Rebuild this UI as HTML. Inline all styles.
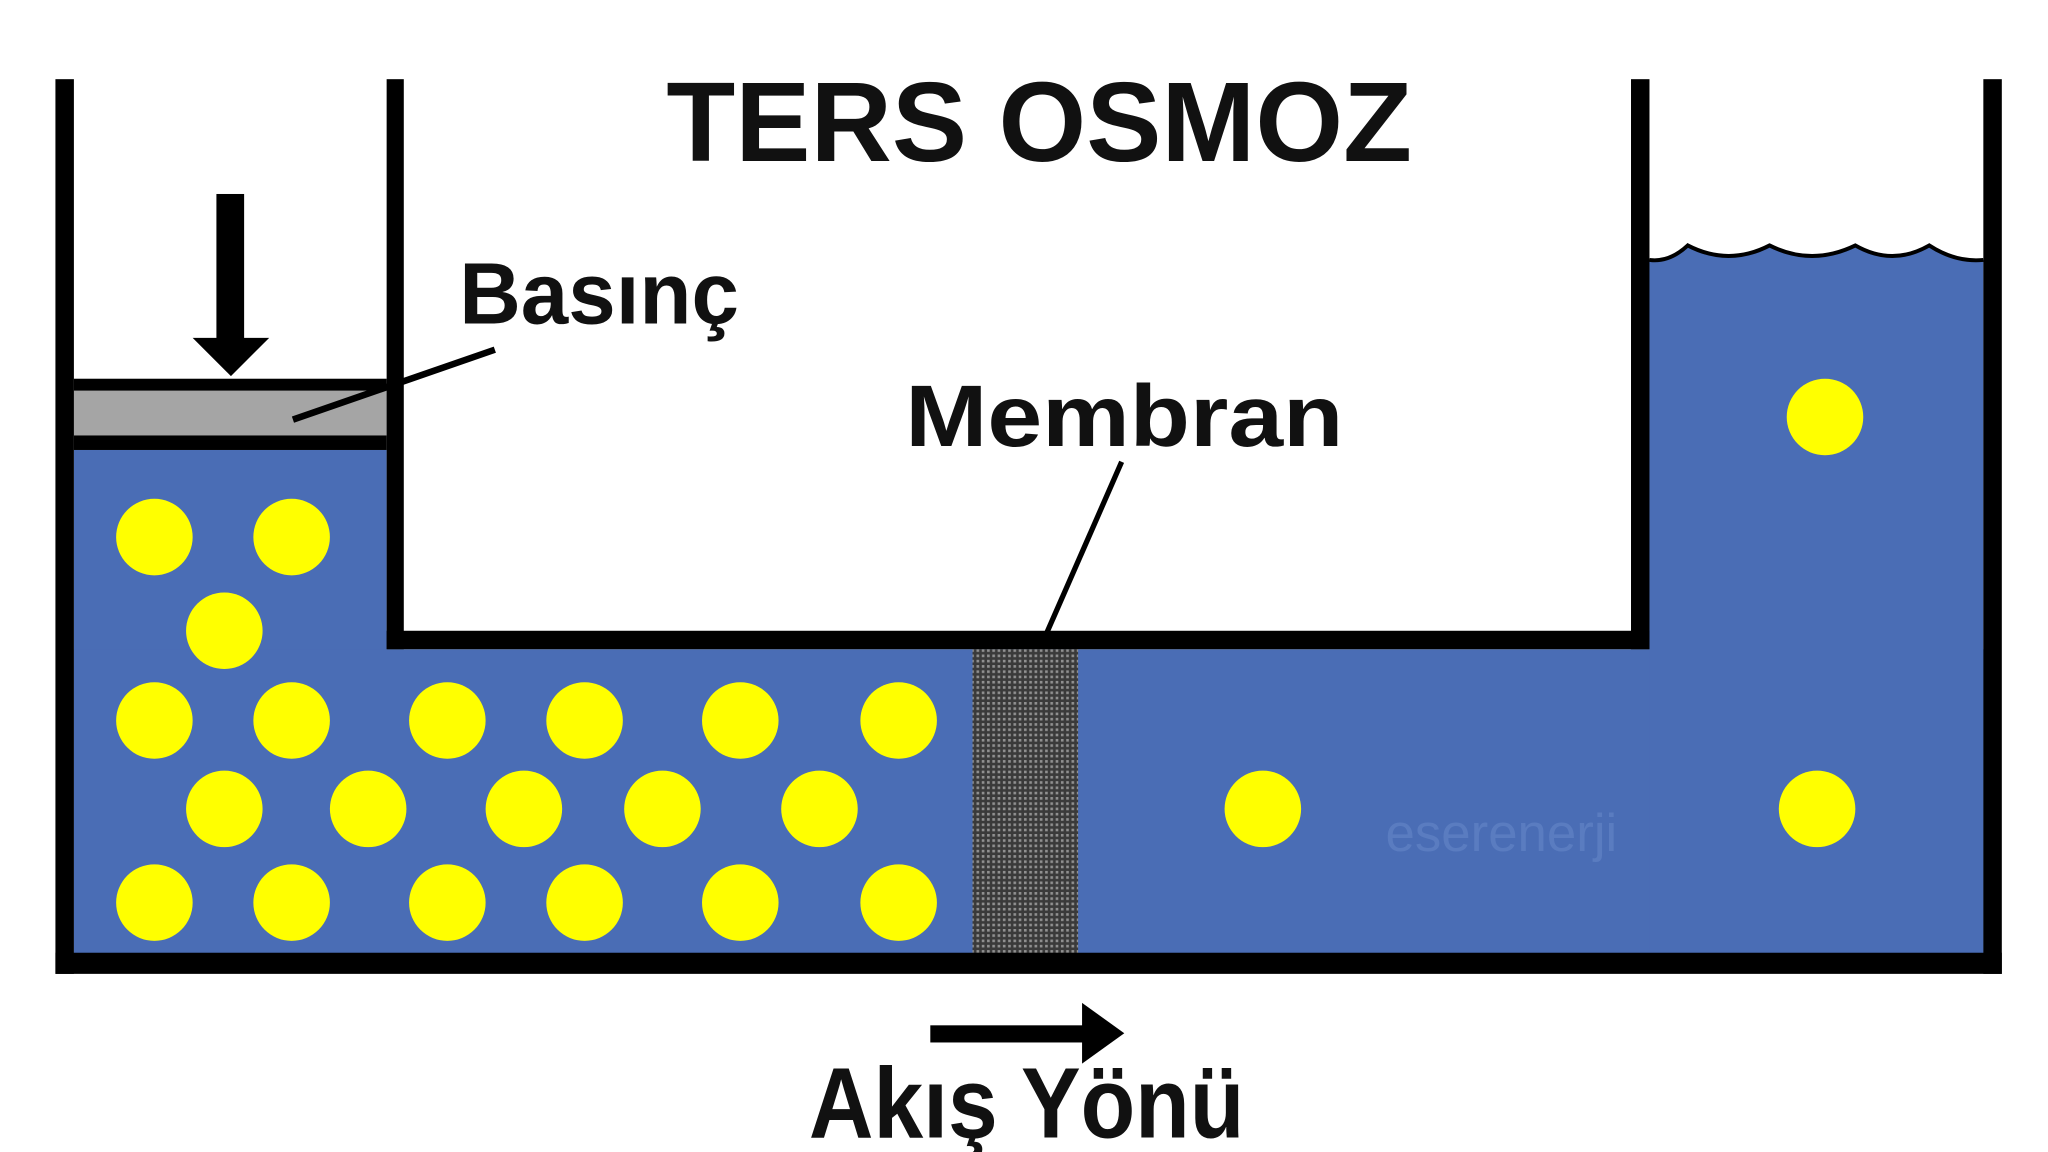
<!DOCTYPE html>
<html><head><meta charset="utf-8"><style>html,body{margin:0;padding:0;background:#fff;}svg{display:block}</style></head>
<body>
<svg width="2048" height="1152" viewBox="0 0 1552 873" preserveAspectRatio="none" xmlns="http://www.w3.org/2000/svg">
<defs>
<pattern id="mp" width="4" height="4" patternUnits="userSpaceOnUse">
<rect width="4" height="4" fill="#3a3a3a"/>
<rect x="0" y="0" width="2" height="2" fill="#909090"/>
</pattern>
</defs>
<rect width="1552" height="873" fill="#fff"/>
<rect x="56" y="341" width="237" height="382" fill="#4a6db5"/>
<rect x="56" y="492" width="1447" height="231" fill="#4a6db5"/>
<path d="M1250,197 Q1265,199 1279,186 Q1310,202 1341,186 Q1373,202 1406,186 Q1434,202 1462,186 Q1482,199 1503,197 L1503,723 L1250,723 Z" fill="#4a6db5"/>
<path d="M1250,197 Q1265,199 1279,186 Q1310,202 1341,186 Q1373,202 1406,186 Q1434,202 1462,186 Q1482,199 1503,197" fill="none" stroke="#000" stroke-width="3"/>
<rect x="737" y="492" width="80" height="231" fill="url(#mp)"/>
<rect x="56" y="287" width="237" height="54" fill="#000"/>
<rect x="56" y="296" width="237" height="34" fill="#a5a5a5"/>
<rect x="42" y="60" width="14" height="678" fill="#000"/>
<rect x="1503" y="60" width="14" height="678" fill="#000"/>
<rect x="42" y="722" width="1475" height="16" fill="#000"/>
<rect x="293" y="60" width="13" height="432" fill="#000"/>
<rect x="1236" y="60" width="14" height="432" fill="#000"/>
<rect x="293" y="478" width="957" height="14" fill="#000"/>
<g fill="#ffff00">
<circle cx="117" cy="407" r="29"/><circle cx="221" cy="407" r="29"/><circle cx="170" cy="478" r="29"/>
<circle cx="117" cy="546" r="29"/><circle cx="221" cy="546" r="29"/><circle cx="339" cy="546" r="29"/><circle cx="443" cy="546" r="29"/><circle cx="561" cy="546" r="29"/><circle cx="681" cy="546" r="29"/>
<circle cx="170" cy="613" r="29"/><circle cx="279" cy="613" r="29"/><circle cx="397" cy="613" r="29"/><circle cx="502" cy="613" r="29"/><circle cx="621" cy="613" r="29"/>
<circle cx="117" cy="684" r="29"/><circle cx="221" cy="684" r="29"/><circle cx="339" cy="684" r="29"/><circle cx="443" cy="684" r="29"/><circle cx="561" cy="684" r="29"/><circle cx="681" cy="684" r="29"/>
<circle cx="1383" cy="316" r="29"/><circle cx="957" cy="613" r="29"/><circle cx="1377" cy="613" r="29"/>
</g>
<text x="1050" y="645" font-family="Liberation Sans, sans-serif" font-size="40" fill="#5a7cc0">eserenerji</text>
<rect x="164" y="147" width="21" height="112" fill="#000"/>
<polygon points="146,256 204,256 175,285" fill="#000"/>
<line x1="375" y1="265" x2="222" y2="318" stroke="#000" stroke-width="5"/>
<line x1="850" y1="350" x2="790" y2="487" stroke="#000" stroke-width="4"/>
<rect x="705" y="777" width="118" height="13" fill="#000"/>
<polygon points="820,760 852,783 820,806" fill="#000"/>
<g font-family="Liberation Sans, sans-serif" font-weight="bold" fill="#111">
<text x="505" y="122" font-size="86" textLength="565" lengthAdjust="spacingAndGlyphs">TERS OSMOZ</text>
<text x="348" y="245" font-size="66" textLength="212" lengthAdjust="spacingAndGlyphs">Basınç</text>
<text x="686" y="338" font-size="66" textLength="332" lengthAdjust="spacingAndGlyphs">Membran</text>
<text x="613" y="862" font-size="76" textLength="330" lengthAdjust="spacingAndGlyphs">Akış Yönü</text>
</g>
</svg>
</body></html>
